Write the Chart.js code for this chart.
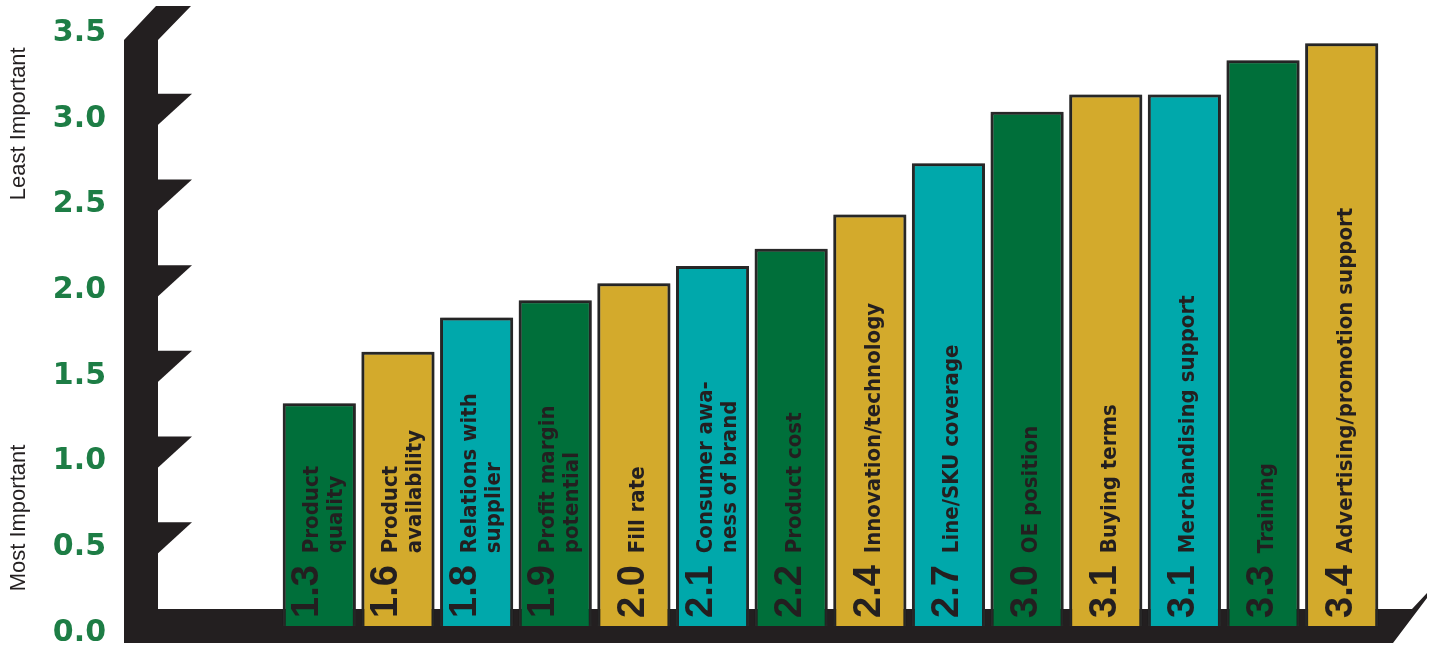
<!DOCTYPE html>
<html>
<head>
<meta charset="utf-8">
<script src="https://cdn.jsdelivr.net/npm/chart.js@4.4.1/dist/chart.umd.min.js"></script>
<style>
  html, body { margin: 0; padding: 0; background: #fff; }
  #wrap { width: 1434px; height: 647px; position: relative; }
</style>
</head>
<body>
<div id="wrap"><canvas id="chart"></canvas></div>
<script>
// bar labels (split the way they wrap inside the bars) and scores
const categories = [
  ['Product', 'quality'],
  ['Product', 'availability'],
  ['Relations with', 'supplier'],
  ['Profit margin', 'potential'],
  ['Fill rate'],
  ['Consumer awa-', 'ness of brand'],
  ['Product cost'],
  ['Innovation/technology'],
  ['Line/SKU coverage'],
  ['OE position'],
  ['Buying terms'],
  ['Merchandising support'],
  ['Training'],
  ['Advertising/promotion support']
];
const scores = [1.3, 1.6, 1.8, 1.9, 2.0, 2.1, 2.2, 2.4, 2.7, 3.0, 3.1, 3.1, 3.3, 3.4];
const yTicks = [0, 0.5, 1.0, 1.5, 2.0, 2.5, 3.0, 3.5];
const axisNotes = ['Least Important', 'Most Important'];

const GREEN = '#006f3a', GOLD = '#d3aa2c', TEAL = '#00a8ab';
const palette = [GREEN, GOLD, TEAL];
const INK = '#231f20';

// black "wall" with notches and the floor under the bars
const wall = {
  id: 'wall',
  beforeDatasetsDraw(chart) {
    const ctx = chart.ctx, y = chart.scales.y, area = chart.chartArea;
    const x0 = 124, x1 = 158, tip = 192;
    const top = y.getPixelForValue(3.5) + 14;
    const floorTop = y.getPixelForValue(0) - 17;
    const floorBot = y.getPixelForValue(0) + 17;
    ctx.save();
    ctx.fillStyle = INK;
    ctx.beginPath();
    ctx.moveTo(x0, top);
    ctx.lineTo(x0 + 32, top - 34);
    ctx.lineTo(tip - 1, top - 34);
    ctx.lineTo(x1, top);
    ctx.lineTo(x1, floorTop);
    ctx.lineTo(area.right + 31, floorTop);
    ctx.lineTo(area.right + 46, floorTop - 16);
    ctx.lineTo(area.right + 46, floorTop - 11);
    ctx.lineTo(area.right + 12, floorBot);
    ctx.lineTo(x0, floorBot);
    ctx.closePath();
    ctx.fill();
    yTicks.slice(1, -1).forEach(v => {
      const py = y.getPixelForValue(v) - 18;
      ctx.beginPath();
      ctx.moveTo(x1 - 1, py);
      ctx.lineTo(tip, py);
      ctx.lineTo(x1 - 1, py + 32);
      ctx.closePath();
      ctx.fill();
    });
    ctx.restore();
  }
};

// soft grey halo round the bars
const halo = {
  id: 'halo',
  beforeDatasetDraw(chart) {
    const ctx = chart.ctx;
    ctx.save();
    ctx.shadowColor = 'rgba(0,0,0,0.45)';
    ctx.shadowBlur = 4;
  },
  afterDatasetDraw(chart) {
    chart.ctx.restore();
  }
};

// score + label written up each bar
const barText = {
  id: 'barText',
  afterDatasetsDraw(chart) {
    const ctx = chart.ctx, y = chart.scales.y;
    const start = y.getPixelForValue(0) - 8;
    chart.getDatasetMeta(0).data.forEach((bar, i) => {
      const lines = categories[i];
      const base = lines.length > 1 ? bar.x - 1 : bar.x + 10;
      ctx.save();
      ctx.translate(base, start);
      ctx.rotate(-Math.PI / 2);
      ctx.fillStyle = INK;
      ctx.textAlign = 'left';
      ctx.textBaseline = 'alphabetic';
      ctx.font = 'bold 38px "Liberation Sans", Arial, sans-serif';
      const num = scores[i].toFixed(1);
      ctx.fillText(num, 0, 0);
      const w = ctx.measureText(num).width + 12;
      ctx.font = 'bold 22px "DejaVu Sans Condensed", "DejaVu Sans", sans-serif';
      lines.forEach((t, k) => ctx.fillText(t, w, k * 24));
      ctx.restore();
    });
  }
};

// "Least Important" / "Most Important" beside the tick labels
const axisText = {
  id: 'axisText',
  afterDraw(chart) {
    const ctx = chart.ctx, y = chart.scales.y;
    const spots = [2.93, 0.63];
    ctx.save();
    ctx.fillStyle = INK;
    ctx.font = '22px "Liberation Sans", Arial, sans-serif';
    ctx.textAlign = 'center';
    ctx.textBaseline = 'middle';
    axisNotes.forEach((t, i) => {
      ctx.save();
      ctx.translate(19, y.getPixelForValue(spots[i]));
      ctx.rotate(-Math.PI / 2);
      ctx.fillText(t, 0, 0);
      ctx.restore();
    });
    ctx.restore();
  }
};

new Chart(document.getElementById('chart'), {
  type: 'bar',
  data: {
    labels: categories,
    datasets: [{
      data: scores,
      backgroundColor: scores.map((v, i) => palette[i % 3]),
      borderColor: '#2b2b2b',
      borderWidth: 3,
      categoryPercentage: 1,
      barPercentage: 0.93
    }]
  },
  options: {
    responsive: true,
    maintainAspectRatio: false,
    animation: false,
    layout: { padding: { top: 26, right: 53, bottom: 21, left: 0 } },
    plugins: { legend: { display: false }, tooltip: { enabled: false } },
    scales: {
      x: { display: false },
      y: {
        min: 0,
        max: 3.5,
        afterFit: s => { s.width = 280; s.paddingTop = 0; s.paddingBottom = 0; },
        afterBuildTicks: s => { s.ticks = yTicks.map(v => ({ value: v })); },
        grid: { display: false, drawTicks: false },
        border: { display: false },
        ticks: {
          padding: 174,
          labelOffset: 7,
          color: '#1d7d45',
          font: { family: '"DejaVu Sans", sans-serif', weight: 'bold', size: 30 },
          callback: v => v.toFixed(1)
        }
      }
    }
  },
  plugins: [wall, halo, barText, axisText]
});
</script>
</body>
</html>
